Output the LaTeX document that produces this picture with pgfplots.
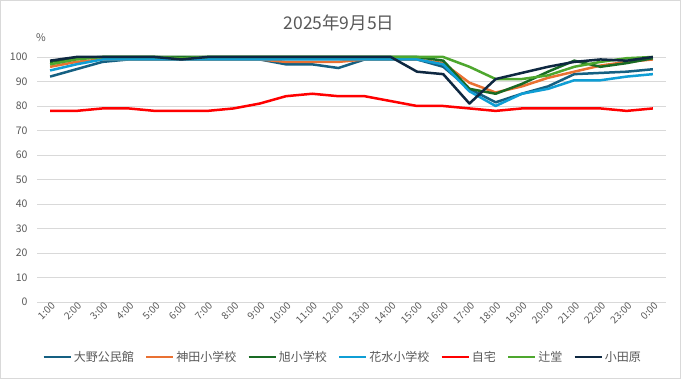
\documentclass[border=0pt]{standalone}
\usepackage{fontspec}
\setmainfont{Noto Sans CJK JP}
\usepackage{pgfplots}
\usepackage{pgfplotstable}
\pgfplotsset{compat=1.18}
\definecolor{txt}{HTML}{595959}
\definecolor{cOno}{HTML}{156082}
\definecolor{cKanda}{HTML}{E97132}
\definecolor{cAsahi}{HTML}{196B24}
\definecolor{cHana}{HTML}{0F9ED5}
\definecolor{cJitaku}{HTML}{FF0000}
\definecolor{cTsuji}{HTML}{4EA72E}
\definecolor{cOda}{HTML}{0E2841}
\definecolor{gridc}{HTML}{D9D9D9}

\pgfplotstableread{
x ono kanda asahi hana jitaku tsuji oda
0  92   96   98   94.5 78 97   98.5
1  95   98   99.5 97   78 99   100
2  98   99   100  99   79 100  100
3  99   99   100  99   79 100  100
4  99   99   100  99   78 100  100
5  99   99   100  99   78 99.5 99
6  99   99   100  99   78 100  100
7  99   99   100  99   79 100  100
8  99   99   100  99   81 100  100
9  97   98   100  99   84 100  100
10 97   98   100  99   85 100  100
11 95.5 98   100  99   84 100  100
12 99   99   100  99   84 100  100
13 99   99   100  99   82 100  100
14 99   99   100  99   80 100  94
15 96   97.5 98.5 97   80 100  93
16 87   89.5 87   86   79 96   81
17 81.5 85.5 85   80   78 91   91
18 85   88   89   85   79 91   93.5
19 88   91.5 94   87   79 92.5 96
20 93   94   98.5 90.5 79 96   98
21 93.5 96.5 96   90.5 79 98   99
22 94   98   97.5 92   78 99.5 98.5
23 95   99   99.5 93   79 100  100
}\data

\begin{document}
\begin{tikzpicture}
\draw[draw=gridc, fill=white, line width=0.8pt] (0.5pt,0.5pt) rectangle (680.5pt,378.5pt);
\path[use as bounding box] (0pt,0pt) rectangle (681pt,379pt);
\node[font=\fontsize{17.5}{20}\selectfont, text=txt] at (339pt,356pt) {2025年9月5日};
\node[anchor=base west, inner sep=0pt, font=\fontsize{10.5}{12}\selectfont, text=txt] at (36pt,337pt) {\%};
\begin{axis}[
  at={(37pt,77pt)}, anchor=south west,
  scale only axis, width=629pt, height=245pt,
  xmin=-0.5, xmax=23.5, ymin=0, ymax=100,
  ytick={0,10,...,100},
  xtick={0,...,23},
  xticklabels={1:00,2:00,3:00,4:00,5:00,6:00,7:00,8:00,9:00,10:00,11:00,12:00,13:00,14:00,15:00,16:00,17:00,18:00,19:00,20:00,21:00,22:00,23:00,0:00},
  ymajorgrids, xmajorgrids=false,
  major grid style={draw=gridc, line width=0.8pt},
  axis line style={draw=none},
  major tick length=0pt,
  clip=false,
  /pgf/number format/assume math mode=true,
  tick label style={font=\fontsize{10.5}{12}\selectfont, text=txt},
  yticklabel style={xshift=-6pt},
  xticklabel style={rotate=45, anchor=east, xshift=4pt, yshift=-4pt, font=\fontsize{10}{11}\selectfont},
  every axis plot/.append style={line width=2.5pt, line join=round, no markers},
  legend columns=7,
  legend style={draw=none, fill=none, at={(0.4857,-0.2245)}, anchor=center,
    font=\fontsize{12}{14}\selectfont, text=txt,
    /tikz/every even column/.append style={column sep=9pt}},
  legend image code/.code={\draw[#1] (0pt,0pt) -- (27pt,0pt);},
]
\addplot[cOno] table[x=x,y=ono] {\data};
\addlegendentry{大野公民館}
\addplot[cKanda] table[x=x,y=kanda] {\data};
\addlegendentry{神田小学校}
\addplot[cAsahi] table[x=x,y=asahi] {\data};
\addlegendentry{旭小学校}
\addplot[cHana] table[x=x,y=hana] {\data};
\addlegendentry{花水小学校}
\addplot[cJitaku] table[x=x,y=jitaku] {\data};
\addlegendentry{自宅}
\addplot[cTsuji] table[x=x,y=tsuji] {\data};
\addlegendentry{辻堂}
\addplot[cOda] table[x=x,y=oda] {\data};
\addlegendentry{小田原}
\end{axis}
\end{tikzpicture}
\end{document}
